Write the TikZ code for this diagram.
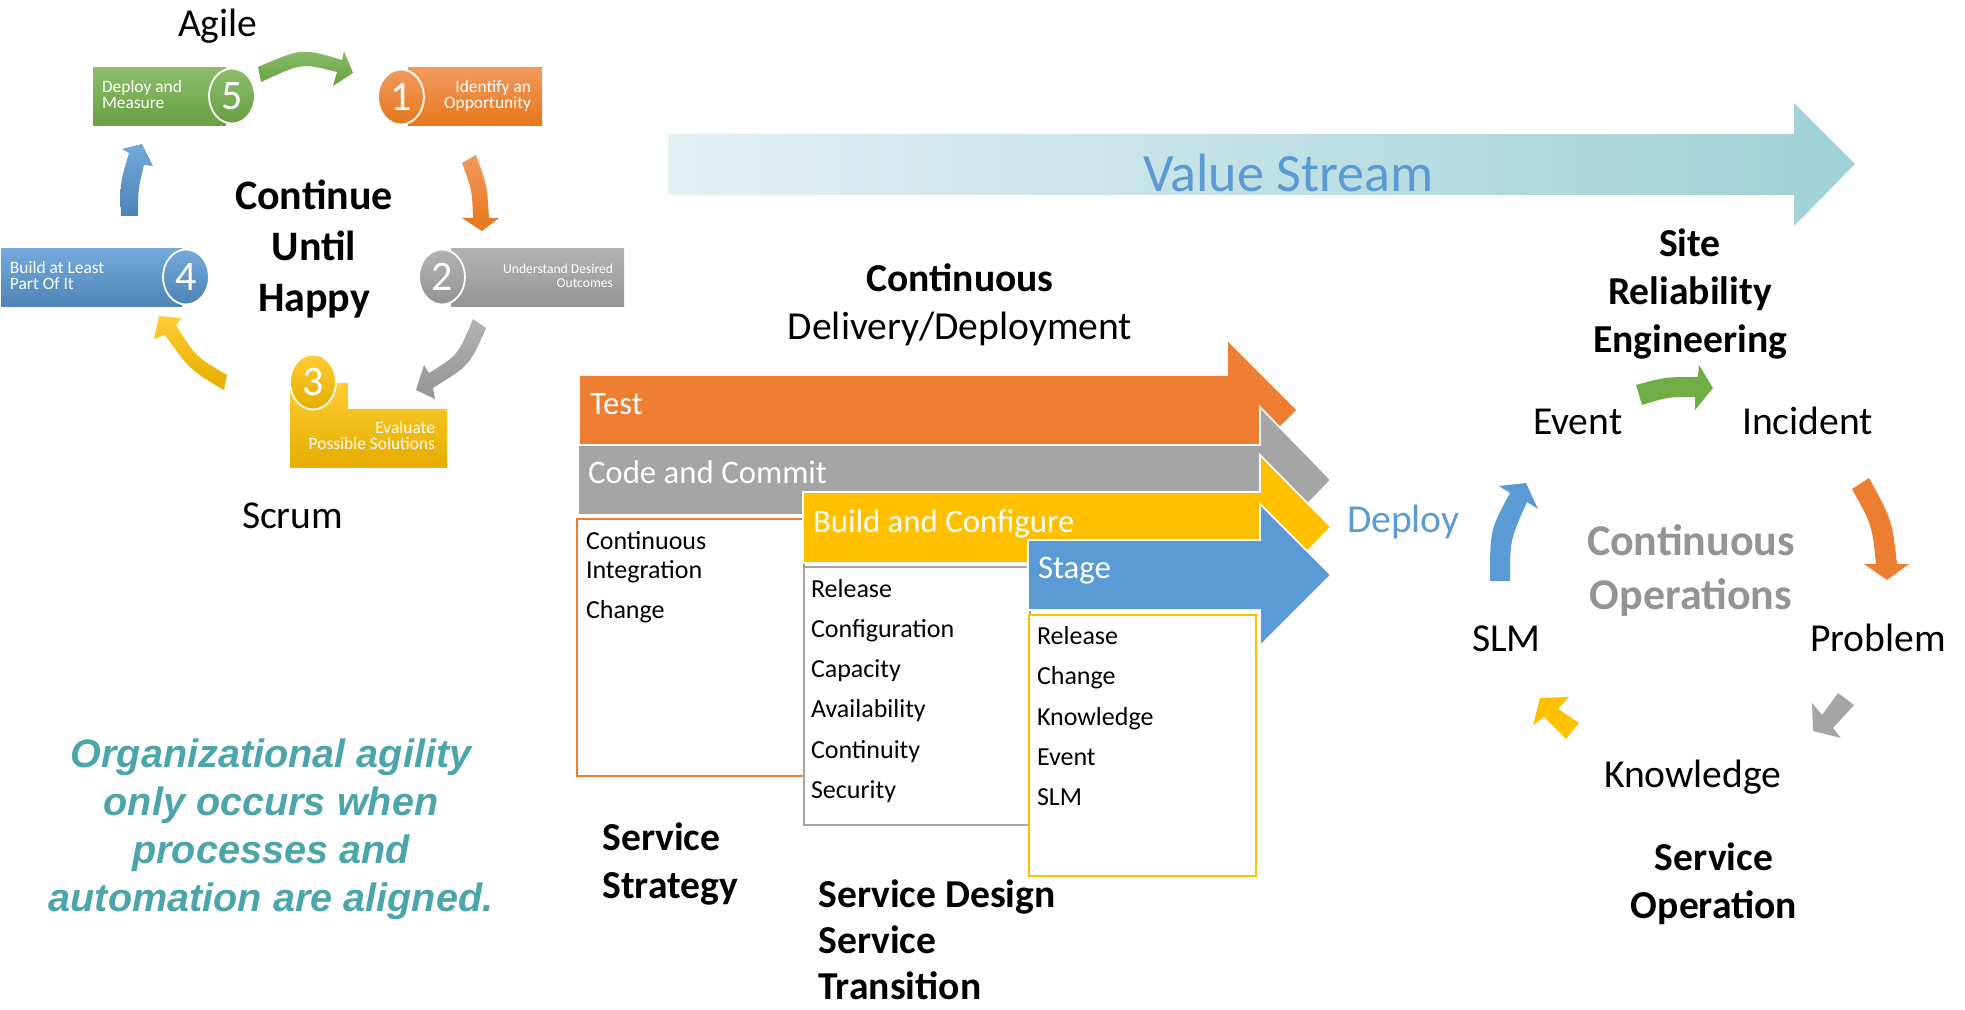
\documentclass[tikz,border=0pt]{standalone}
\usepackage{fontspec}
\setmainfont{Carlito}
\newfontfamily\arialfont{Liberation Sans}
\usetikzlibrary{shapes.geometric}
\definecolor{cOr}{HTML}{ED7D31}
\definecolor{cGy}{HTML}{A5A5A5}
\definecolor{cYe}{HTML}{FFC000}
\definecolor{cBl}{HTML}{5B9BD5}
\definecolor{cGr}{HTML}{70AD47}
\definecolor{cTeal}{HTML}{4CA5AB}
\definecolor{vsL}{HTML}{E4F0F2}
\definecolor{vsR}{HTML}{9FD1D7}
\tikzset{
 x=0.5pt,y=-0.5pt,
 txt/.style={anchor=base west,inner sep=0pt,outer sep=0pt},
 big/.style={font=\fontsize{19.8}{24}\selectfont},
 bigb/.style={font=\bfseries\fontsize{19.8}{24}\selectfont},
 item/.style={txt,font=\fontsize{13}{15}\selectfont},
 bar/.style={txt,text=white,font=\fontsize{16.4}{19}\selectfont},
 flat/.style={draw=white,line width=0.8pt},
 sOr/.style={top color=cOr!78!white,bottom color=cOr!90!black!60!orange},
 sGy/.style={top color=cGy!85!white,bottom color=cGy!90!black},
 sYe/.style={top color=cYe!80!white,bottom color=cYe!90!black},
 sBl/.style={top color=cBl!85!white,bottom color=cBl!85!black},
 sGr/.style={top color=cGr!80!white,bottom color=cGr!92!black},
 num/.style={ellipse,minimum width=23pt,minimum height=27.5pt,inner sep=0pt,draw=white,line width=0.9pt,text=white,font=\fontsize{21}{24}\selectfont},
 small/.style={inner sep=0pt,outer sep=0pt,text=white,font=\fontsize{8.7}{8}\selectfont},
}
\begin{document}
\begin{tikzpicture}
\useasboundingbox (0,0) rectangle (1965,1010);

% Value stream
\shade[left color=vsL,right color=vsR]
 (668,134) -- (1794,134) -- (1794,103) -- (1855,164) -- (1794,226) -- (1794,195) -- (668,195) -- cycle;
\node[txt,text=cBl,font=\fontsize{27}{32}\selectfont] (vs) at (1143,192) {Value Stream};

% Agile cycle
\path[sGr] (93,68) rectangle (226,126);
\node[num,sGr] (n5) at (232,96) {5};
\node[small,anchor=base west,align=left] (t5) at (102,109) {Deploy and\\Measure};
\path[sOr] (408,68) rectangle (542,126);
\node[num,sOr] (n1) at (401,97) {1};
\node[small,anchor=base east,align=right] (t1) at (531,109) {Identify an\\Opportunity};
\path[sGy] (451,249) rectangle (624,307);
\node[num,sGy] (n2) at (442,277) {2};
\node[small,anchor=base east,align=right,font=\fontsize{6.8}{7}\selectfont] (t2) at (613,288) {Understand Desired\\Outcomes};
\path[sYe] (290,383) -- (348,383) -- (348,409) -- (447,409) -- (447,468) -- (290,468) -- cycle;
\node[num,sYe] (n3) at (313,382) {3};
\node[small,anchor=base east,align=right] (t3) at (435,450) {Evaluate\\Possible Solutions};
\path[sBl] (1,249) rectangle (182,307);
\node[num,sBl] (n4) at (186,277) {4};
\node[small,anchor=base west,align=left] (t4) at (10,290) {Build at Least\\Part Of It};

% cycle arrows left
\path[sGr] (258,67) .. controls (302,48) .. (342,60) -- (344,51) -- (353,73) -- (333,86) -- (337,72) .. controls (302,63) .. (261,82) -- cycle;
\path[sOr] (462,163) -- (476,155) .. controls (487,185) .. (489,218) -- (499,218) -- (482,231) -- (462,218) -- (473,218) .. controls (472,190) .. (462,163) -- cycle;
\path[sGy] (473,319) -- (486,328) .. controls (470,365) .. (433,388) -- (435,399) -- (416,390) -- (424,365) -- (429,373) .. controls (458,355) .. (473,319) -- cycle;
\path[sYe] (227,375) -- (224,390) .. controls (190,370) .. (165,335) -- (154,339) -- (159,316) -- (182,318) -- (176,325) .. controls (196,357) .. (227,375) -- cycle;
\path[sBl] (121,216) .. controls (120,183) .. (129,153) -- (122,149) -- (142,144) -- (153,166) -- (144,165) .. controls (138,190) .. (138,216) -- cycle;

\node[txt,big] (agile) at (178,37) {Agile};
\node[txt,big] (scrum) at (242,528) {Scrum};
\node[inner sep=0pt,anchor=base,align=center,font=\bfseries\fontsize{21}{25.5}\selectfont] (cuh) at (314,312) {Continue\\Until\\Happy};

\node[inner sep=0pt,anchor=base,align=center,text=cTeal,font=\arialfont\bfseries\itshape\fontsize{19.8}{24}\selectfont] (org) at (271,911) {Organizational agility\\only occurs when\\processes and\\automation are aligned.};

% Stacked arrows
\path[fill=cOr] (580,376) -- (1228,376) -- (1228,342) -- (1296,410) -- (1228,478) -- (1228,444) -- (580,444) -- cycle;
\path[fill=cGy,flat] (578,445) -- (1260,445) -- (1260,407) -- (1331,480) -- (1260,553) -- (1260,515) -- (578,515) -- cycle;
\path[fill=white,draw=cOr,line width=1.2pt] (577,519) rectangle (804,776);
\path[fill=cYe,flat] (803,492) -- (1260,492) -- (1260,455) -- (1331,527) -- (1260,600) -- (1260,563) -- (803,563) -- cycle;
\path[fill=white,draw=cGy,line width=1.2pt] (804,567) rectangle (1030,825);
\path[fill=cBl,flat] (1028,540) -- (1260,540) -- (1260,504) -- (1331,575) -- (1260,646) -- (1260,610) -- (1028,610) -- cycle;
\path[fill=white,draw=cYe,line width=1.2pt] (1029,615) rectangle (1256,876);

\node[bar] (test) at (590,415) {Test};
\node[bar] (code) at (588,483) {Code and Commit};
\node[bar] (build) at (813,532) {Build and Configure};
\node[bar] (stage) at (1038,578) {Stage};

\node[item] (a1) at (586,549) {Continuous};
\node[item] (a2) at (586,578) {Integration};
\node[item] (a3) at (586,618) {Change};

\node[item] (b1) at (811,597) {Release};
\node[item] (b2) at (811,637) {Configuration};
\node[item] (b3) at (811,677) {Capacity};
\node[item] (b4) at (811,717) {Availability};
\node[item] (b5) at (811,758) {Continuity};
\node[item] (b6) at (811,798) {Security};

\node[item] (c1) at (1037,644) {Release};
\node[item] (c2) at (1037,684) {Change};
\node[item] (c3) at (1037,725) {Knowledge};
\node[item] (c4) at (1037,765) {Event};
\node[item] (c5) at (1037,805) {SLM};

\node[inner sep=0pt,anchor=base,align=center,big] (cd) at (960,340) {\textbf{Continuous}\\Delivery/Deployment};
\node[inner sep=0pt,anchor=base west,align=left,bigb] (ss) at (602,898) {Service\\Strategy};
\node[inner sep=0pt,anchor=base west,align=left,font=\bfseries\fontsize{19.8}{22.8}\selectfont] (sd) at (818,999) {Service Design\\Service\\Transition};

\node[txt,big,text=cBl] (deploy) at (1347,532) {Deploy};

% Right cycle
\node[inner sep=0pt,anchor=base,align=center,bigb] (sre) at (1690,353) {Site\\Reliability\\Engineering};
\node[txt,big] (event) at (1533,435) {Event};
\node[txt,big] (incident) at (1742,435) {Incident};
\node[txt,big] (problem) at (1810,651) {Problem};
\node[txt,big] (slm) at (1472,651) {SLM};
\node[txt,big] (know) at (1604,787) {Knowledge};
\node[inner sep=0pt,anchor=base,align=center,bigb] (sop) at (1714,918) {Service\\Operation};
\node[inner sep=0pt,anchor=base,align=center,text=cGy!90!black,font=\bfseries\fontsize{22}{27}\selectfont] (cop) at (1691,609) {Continuous\\Operations};

\path[fill=cGr] (1636,385) .. controls (1665,377) .. (1698,377) -- (1699,365) -- (1713,388) -- (1695,410) -- (1695,397) .. controls (1668,397) .. (1642,405) -- cycle;
\path[fill=cOr] (1852,489) -- (1869,478) .. controls (1892,520) .. (1897,564) -- (1909,564) -- (1887,580) -- (1864,564) -- (1876,564) .. controls (1872,525) .. (1852,489) -- cycle;
\path[fill=cGy] (1838,693) -- (1854,705) -- (1833,728) -- (1841,738) -- (1813,731) -- (1812,703) -- (1822,715) -- cycle;
\path[fill=cYe] (1579,723) -- (1566,739) -- (1544,717) -- (1533,725) -- (1540,698) -- (1569,697) -- (1558,709) -- cycle;
\path[fill=cBl] (1490,581) .. controls (1490,530) .. (1510,493) -- (1499,486) -- (1526,483) -- (1538,509) -- (1527,502) .. controls (1510,540) .. (1510,581) -- cycle;
\end{tikzpicture}
\end{document}
